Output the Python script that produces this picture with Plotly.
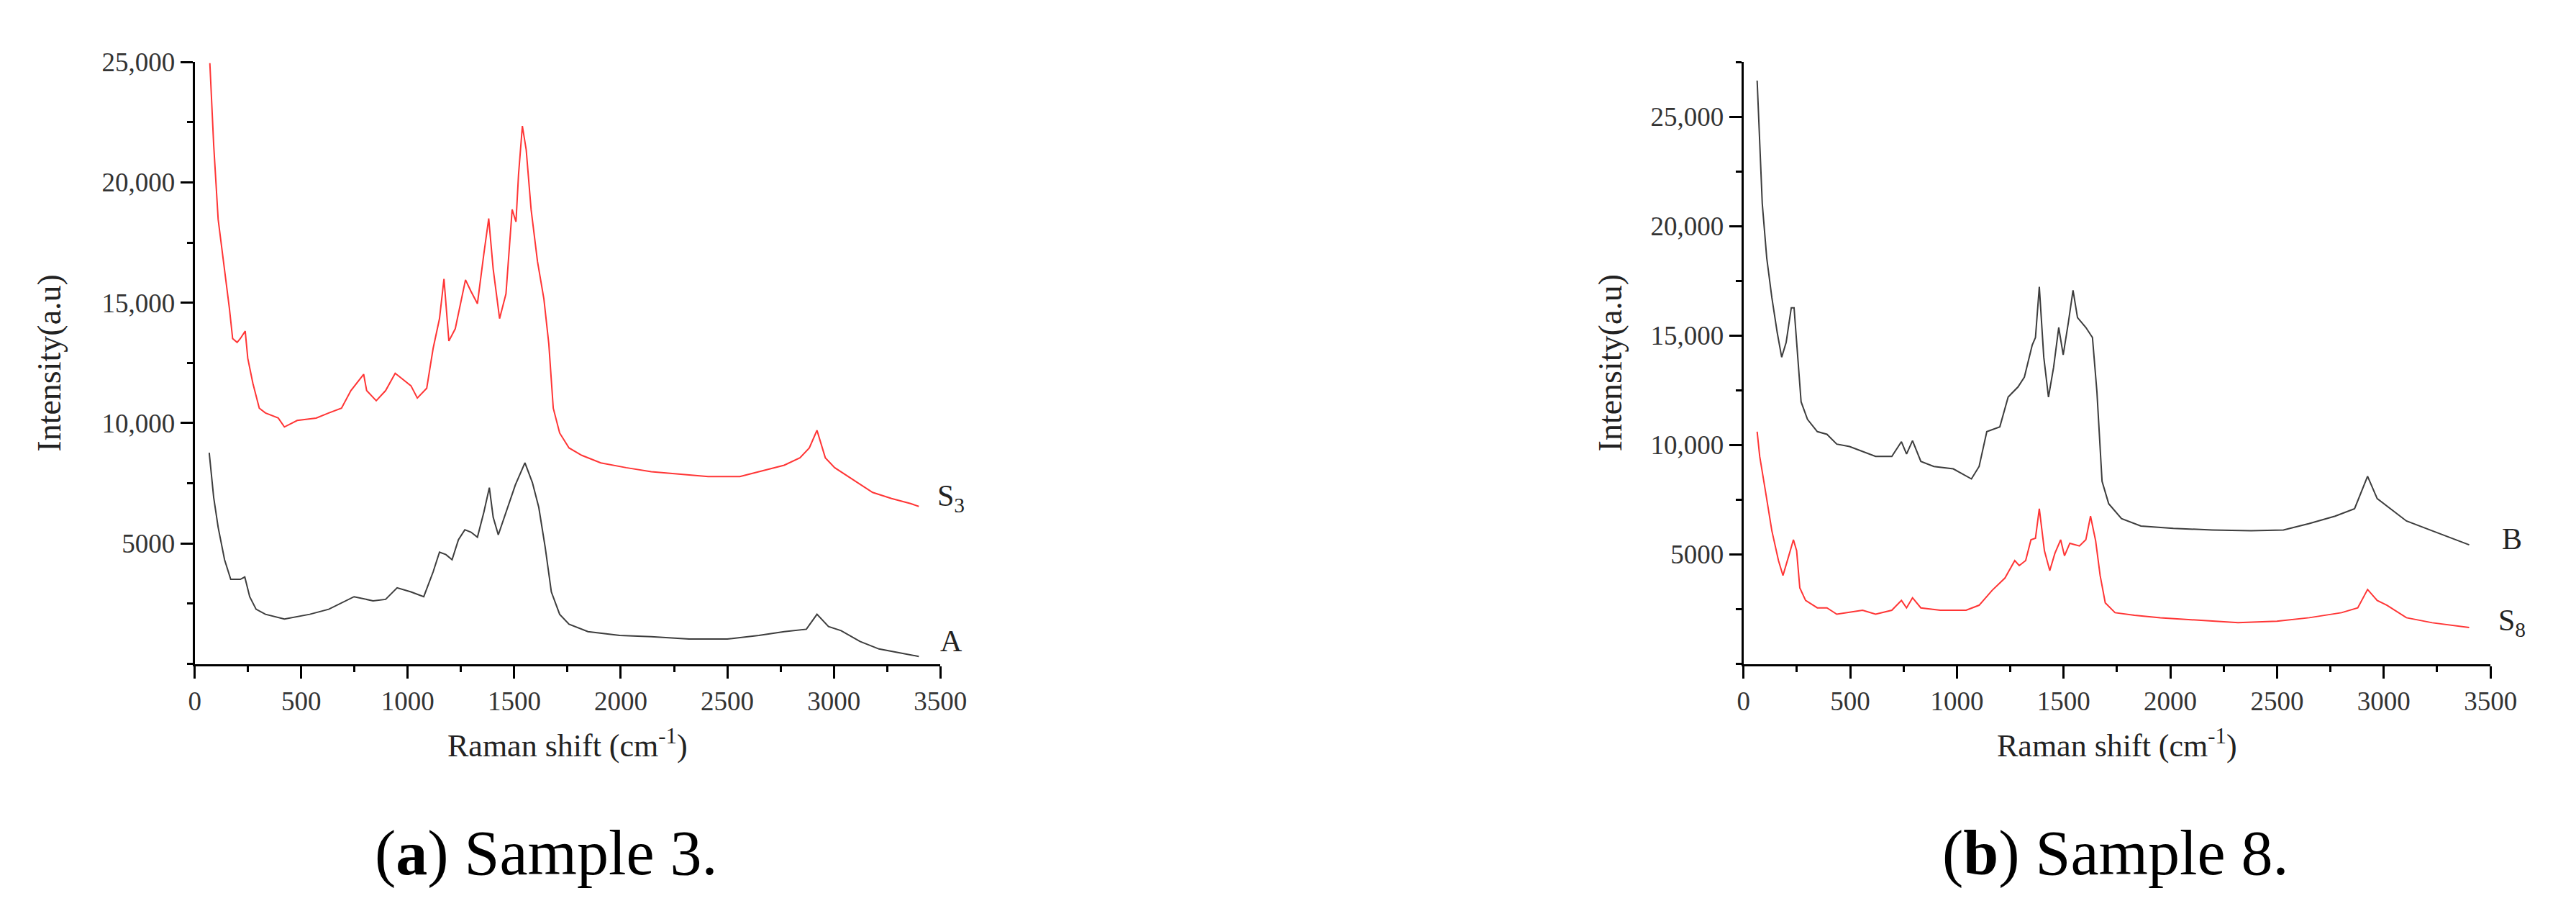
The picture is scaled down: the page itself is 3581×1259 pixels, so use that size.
import plotly.graph_objects as go

# ---- data (Raman shift in cm-1, intensity in a.u.) ----
# (a) Sample 3
s3_x = [71, 89, 110, 140, 163, 178, 199, 214, 237, 249, 273, 303, 332, 392, 421, 481, 570, 629,
        689, 733, 793, 807, 852, 896, 941, 971, 1015, 1045, 1089, 1119, 1149, 1170, 1193, 1223,
        1253, 1271, 1297, 1327, 1357, 1380, 1401, 1431, 1461, 1490, 1508, 1520, 1538, 1556, 1579,
        1609, 1639, 1662, 1683, 1713, 1757, 1817, 1906, 2025, 2143, 2262, 2410, 2559, 2678, 2767,
        2841, 2885, 2921, 2960, 3004, 3093, 3182, 3271, 3360, 3399]
s3_y = [24950, 21550, 18460, 16400, 14750, 13510, 13350, 13510, 13820, 12690, 11650, 10620, 10420,
        10210, 9840, 10110, 10210, 10420, 10620, 11350, 12030, 11350, 10930, 11350, 12070, 11860,
        11550, 11040, 11450, 13100, 14340, 15990, 13410, 13920, 15160, 15950, 15470, 14960, 17020,
        18500, 16400, 14340, 15370, 18870, 18360, 20320, 22340, 21350, 18870, 16710, 15160, 13300,
        10620, 9590, 8970, 8660, 8350, 8150, 7980, 7900, 7780, 7780, 8050, 8250, 8560, 8970, 9700,
        8560, 8150, 7630, 7120, 6870, 6660, 6540]

a_x = [68, 89, 110, 140, 169, 214, 235, 258, 288, 332, 421, 540, 629, 689, 748, 837, 896, 950,
       1015, 1075, 1119, 1149, 1179, 1208, 1238, 1268, 1297, 1327, 1357, 1383, 1401, 1425, 1461,
       1505, 1550, 1585, 1615, 1645, 1674, 1713, 1757, 1846, 1995, 2143, 2321, 2500, 2648, 2767,
       2871, 2921, 2975, 3034, 3123, 3212, 3301, 3399]
a_y = [8770, 6910, 5670, 4330, 3510, 3510, 3610, 2790, 2270, 2060, 1860, 2060, 2270, 2540, 2790,
       2620, 2680, 3160, 2990, 2790, 3820, 4640, 4540, 4330, 5160, 5570, 5470, 5260, 6290, 7320,
       6090, 5360, 6290, 7430, 8350, 7530, 6500, 4850, 2990, 2060, 1650, 1340, 1180, 1130, 1030,
       1030, 1180, 1340, 1440, 2060, 1550, 1380, 930, 620, 470, 310]

# (b) Sample 8
b_x = [64, 76, 88, 109, 133, 158, 179, 200, 224, 237, 255, 270, 300, 346, 391, 437, 497, 558, 619,
       695, 740, 764, 792, 831, 892, 983, 1068, 1104, 1140, 1201, 1240, 1286, 1316, 1353, 1368,
       1386, 1407, 1429, 1453, 1477, 1498, 1522, 1544, 1565, 1604, 1635, 1656, 1680, 1711, 1771,
       1862, 2014, 2196, 2378, 2530, 2651, 2772, 2863, 2924, 2969, 3015, 3106, 3227, 3318, 3400]
b_y = [26650, 23750, 21030, 18540, 16730, 15140, 14010, 14690, 16270, 16270, 14010, 11970, 11170,
       10610, 10490, 10040, 9930, 9700, 9480, 9480, 10150, 9590, 10200, 9250, 9020, 8910, 8450,
       9020, 10610, 10830, 12190, 12650, 13100, 14570, 14910, 17230, 14010, 12190, 13550, 15370,
       14120, 15590, 17070, 15820, 15370, 14910, 12420, 8340, 7320, 6640, 6300, 6190, 6120, 6080,
       6120, 6410, 6750, 7090, 8570, 7550, 7210, 6530, 6080, 5740, 5440]

s8_x = [64, 76, 103, 133, 164, 185, 209, 234, 249, 264, 291, 346, 391, 437, 558, 619, 695, 740,
        764, 792, 831, 922, 1043, 1104, 1165, 1225, 1271, 1292, 1322, 1347, 1368, 1386, 1410,
        1435, 1459, 1486, 1504, 1529, 1574, 1604, 1626, 1650, 1671, 1695, 1741, 1832, 1953, 2135,
        2317, 2499, 2651, 2802, 2878, 2924, 2969, 3015, 3106, 3227, 3318, 3400]
s8_y = [10610, 9480, 7890, 6080, 4720, 4040, 4830, 5670, 5170, 3470, 2900, 2560, 2560, 2270, 2450,
        2270, 2450, 2900, 2560, 3020, 2560, 2450, 2450, 2680, 3360, 3920, 4720, 4490, 4720, 5670,
        5740, 7090, 5170, 4260, 5050, 5670, 4940, 5510, 5390, 5670, 6750, 5620, 4040, 2790, 2340,
        2220, 2110, 2000, 1880, 1950, 2110, 2340, 2560, 3400, 2900, 2680, 2110, 1880, 1770, 1660]

# curve-end labels (text, x, y in data units)
left_labels = [("S<sub>3</sub>", 3550, 6900), ("A", 3550, 950)]
right_labels = [("B", 3600, 5690), ("S<sub>8</sub>", 3600, 1880)]

x_ticks = [0, 500, 1000, 1500, 2000, 2500, 3000, 3500]
y_ticks = [5000, 10000, 15000, 20000, 25000]
y_tick_text = ["5000", "10,000", "15,000", "20,000", "25,000"]

RED = "#ff3535"
GREY = "#3d3d3d"
FONT = "Liberation Serif"

fig = go.Figure()
fig.add_trace(go.Scatter(x=s3_x, y=s3_y, mode="lines", line=dict(color=RED, width=2),
                         xaxis="x", yaxis="y", showlegend=False))
fig.add_trace(go.Scatter(x=a_x, y=a_y, mode="lines", line=dict(color=GREY, width=2),
                         xaxis="x", yaxis="y", showlegend=False))
fig.add_trace(go.Scatter(x=b_x, y=b_y, mode="lines", line=dict(color=GREY, width=2),
                         xaxis="x2", yaxis="y2", showlegend=False))
fig.add_trace(go.Scatter(x=s8_x, y=s8_y, mode="lines", line=dict(color=RED, width=2),
                         xaxis="x2", yaxis="y2", showlegend=False))

W, H = 3581, 1259
Y_TOP, Y_BOT = 59, 909          # pixel rows of the plot areas
LEFT_X = (257, 1307)
RIGHT_X = (2438, 3490)
y_dom = [(H - Y_BOT) / H, (H - Y_TOP) / H]


def xaxis(dom, anchor):
    return dict(domain=dom, anchor=anchor, range=[0, 3500], tickvals=x_ticks,
                showline=True, linecolor="black", linewidth=3, showgrid=False, zeroline=False,
                ticks="outside", ticklen=17, tickwidth=3, tickcolor="black",
                minor=dict(dtick=250, ticks="outside", ticklen=8, tickwidth=3, tickcolor="black"),
                tickfont=dict(family=FONT, size=37, color="#333"))


def yaxis(dom, anchor, top):
    return dict(domain=dom, anchor=anchor, range=[0, top], tickvals=y_ticks, ticktext=y_tick_text,
                showline=True, linecolor="black", linewidth=3, showgrid=False, zeroline=False,
                ticks="outside", ticklen=17, tickwidth=3, tickcolor="black",
                minor=dict(tick0=0, dtick=2500, ticks="outside", ticklen=8, tickwidth=3,
                           tickcolor="black"),
                tickfont=dict(family=FONT, size=37, color="#333"))


fig.update_layout(
    width=W, height=H,
    margin=dict(l=0, r=0, t=0, b=0),
    paper_bgcolor="white", plot_bgcolor="white",
    xaxis=xaxis([LEFT_X[0] / W, LEFT_X[1] / W], "y"),
    yaxis=yaxis(y_dom, "x", 25000),
    xaxis2=xaxis([RIGHT_X[0] / W, RIGHT_X[1] / W], "y2"),
    yaxis2=yaxis(y_dom, "x2", 27500),
)


def paper_pos(xpx, ypx):
    return xpx / W, (H - ypx) / H


ann = []
# axis titles
for (x0, x1), ytitle_px in [(LEFT_X, 52), (RIGHT_X, 2250)]:
    px, py = paper_pos((x0 + x1) / 2, 1022)
    ann.append(dict(x=px, y=py, xref="paper", yref="paper", xanchor="center", yanchor="middle",
                    text="Raman shift (cm<sup>-1</sup>)", showarrow=False,
                    font=dict(family=FONT, size=44, color="#222")))
    px, py = paper_pos(ytitle_px, (Y_TOP + Y_BOT) / 2)
    ann.append(dict(x=px, y=py, xref="paper", yref="paper", xanchor="center", yanchor="middle",
                    text="Intensity(a.u)", textangle=-90, showarrow=False,
                    font=dict(family=FONT, size=46, color="#222")))

# curve labels sit outside the x range, so place them in paper units
lab_font = dict(family=FONT, size=42, color="#222")
for labels, (x0, x1), top in [(left_labels, LEFT_X, 25000), (right_labels, RIGHT_X, 27500)]:
    for text, xv, yv in labels:
        xpx = x0 + xv / 3500 * (x1 - x0)
        ypx = Y_BOT - yv / top * (Y_BOT - Y_TOP)
        px, py = paper_pos(xpx, ypx)
        ann.append(dict(x=px, y=py, xref="paper", yref="paper", xanchor="center",
                        yanchor="middle", text=text, showarrow=False, font=lab_font))

# captions
cap_font = dict(family=FONT, size=88, color="black")
for text, cx in [("(<b>a</b>) Sample 3.", 752), ("(<b>b</b>) Sample 8.", 2962)]:
    px, py = paper_pos(cx, 1176)
    ann.append(dict(x=px, y=py, xref="paper", yref="paper", xanchor="center", yanchor="middle",
                    text=text, showarrow=False, font=cap_font))

fig.update_layout(annotations=ann)

fig.write_html("out.html")
